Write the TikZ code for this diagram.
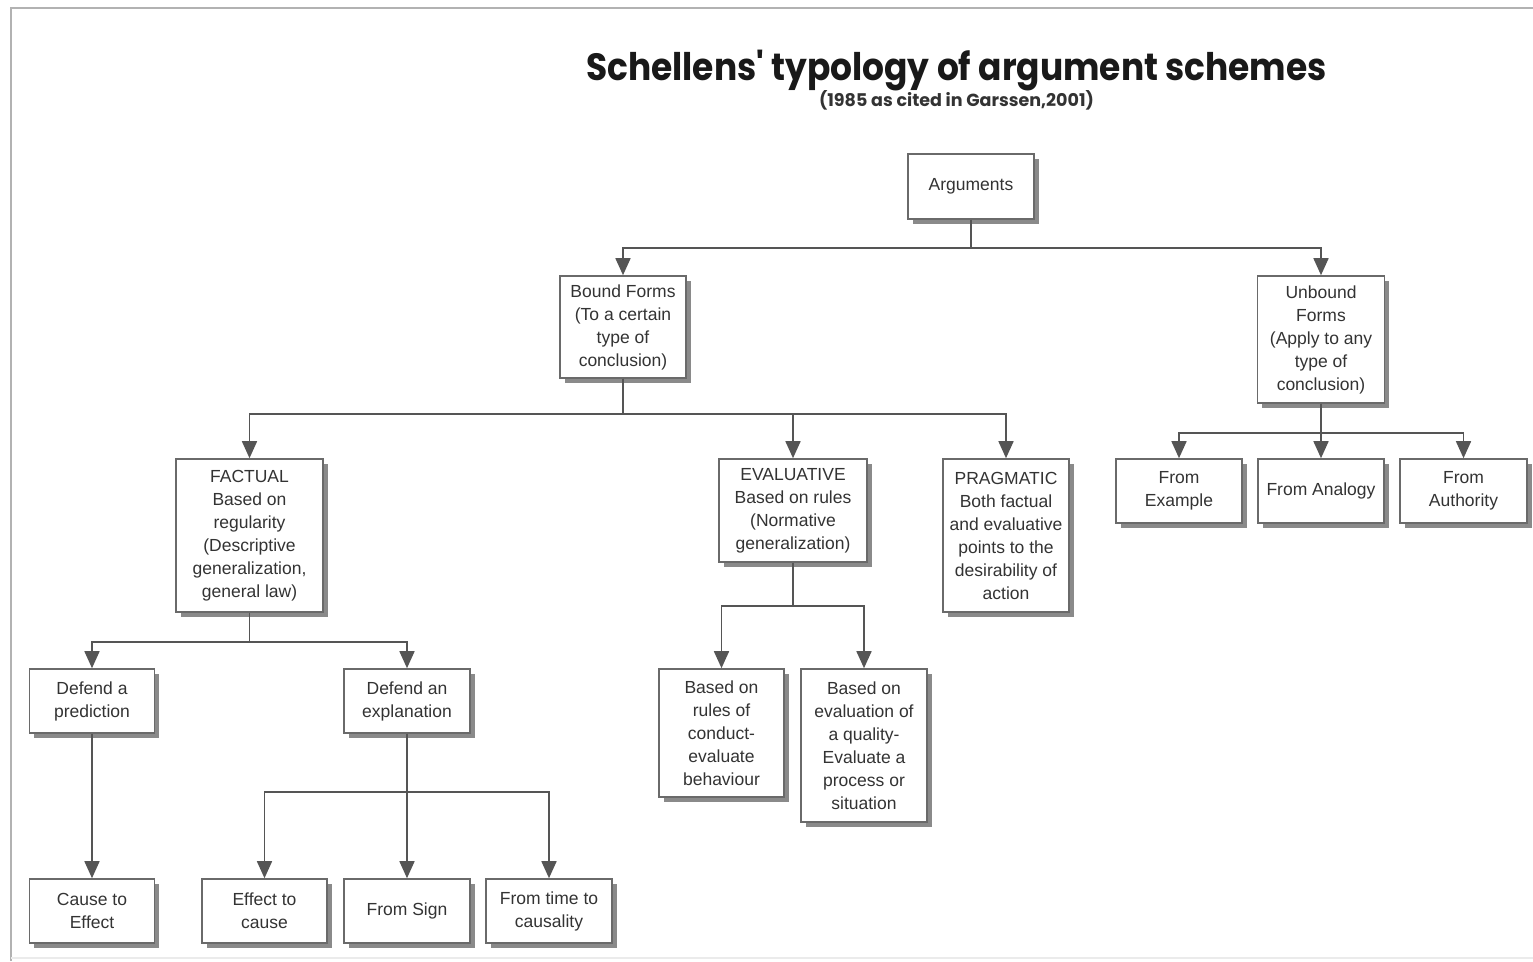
\documentclass[tikz,border=0pt]{standalone}
\usepackage{fontspec}
\setmainfont{Liberation Sans}
\newfontfamily\titlefont{Poppins}
\usetikzlibrary{arrows.meta,shadows}

\definecolor{boxline}{HTML}{6A6A6A}
\definecolor{wire}{HTML}{555555}
\definecolor{ink}{HTML}{333333}
\definecolor{shade}{HTML}{8A8A8A}

\tikzset{
  box/.style={draw=boxline, line width=1.6pt, fill=white, align=center,
    inner sep=0pt, text=ink,
    font=\fontsize{17.5}{23}\selectfont,
    drop shadow={shadow xshift=4.5pt, shadow yshift=-4.5pt, fill=shade, opacity=1}},
  link/.style={draw=wire, line width=1.6pt},
  arr/.style={link, -{Triangle[width=15pt,length=17pt]}},
}

\begin{document}
\begin{tikzpicture}[x=1pt, y=-1pt]
\useasboundingbox (0,0) rectangle (1533,961);
\fill[white] (0,0) rectangle (1533,961);

% page frame
\draw[black!30, line width=2pt] (11,961) -- (11,8) -- (1533,8);
\draw[black!8, line width=1.5pt] (11,958) -- (1533,958);

% heading
\node[font=\titlefont\bfseries\fontsize{38}{44}\selectfont, anchor=base, text=black!90] (title) at (956.5,80) {\scalebox{0.906}[1]{Schellens' typology of argument schemes}};
\node[font=\titlefont\bfseries\fontsize{17.5}{21}\selectfont, anchor=base, text=black!80] (sub) at (956.5,106) {(1985 as cited in Garssen,2001)};

% boxes
\node[box, minimum width=126pt, minimum height=65pt] (args) at (971,186.5) {Arguments};
\node[box, minimum width=126pt, minimum height=102pt] (bound) at (623,327) {Bound Forms\\(To a certain\\type of\\conclusion)};
\node[box, minimum width=127pt, minimum height=127pt] (unbound) at (1321,339.5) {Unbound\\Forms\\(Apply to any\\type of\\conclusion)};

\node[box, minimum width=147pt, minimum height=153pt] (fact) at (249.5,535.5) {FACTUAL\\Based on\\regularity\\(Descriptive\\generalization,\\general law)};
\node[box, minimum width=148pt, minimum height=103pt] (eval) at (793,510.5) {EVALUATIVE\\Based on rules\\(Normative\\generalization)};
\node[box, minimum width=126pt, minimum height=153pt] (prag) at (1006,535.5) {PRAGMATIC\\Both factual\\and evaluative\\points to the\\desirability of\\action};

\node[box, minimum width=126pt, minimum height=64pt] (fex) at (1179,491) {From\\Example};
\node[box, minimum width=126pt, minimum height=64pt] (fan) at (1321,491) {From Analogy};
\node[box, minimum width=127pt, minimum height=64pt] (fau) at (1463.5,491) {From\\Authority};

\node[box, minimum width=125pt, minimum height=64pt] (pred) at (92,701) {Defend a\\prediction};
\node[box, minimum width=126pt, minimum height=64pt] (expl) at (407,701) {Defend an\\explanation};
\node[box, minimum width=125pt, minimum height=128pt] (rules) at (721.5,733) {Based on\\rules of\\conduct-\\evaluate\\behaviour};
\node[box, minimum width=126pt, minimum height=153pt] (qual) at (864,745.5) {Based on\\evaluation of\\a quality-\\Evaluate a\\process or\\situation};

\node[box, minimum width=125pt, minimum height=64pt] (c2e) at (92,911) {Cause to\\Effect};
\node[box, minimum width=125pt, minimum height=64pt] (e2c) at (264.5,911) {Effect to\\cause};
\node[box, minimum width=126pt, minimum height=64pt] (sign) at (407,911) {From Sign};
\node[box, minimum width=126pt, minimum height=64pt] (time) at (549,911) {From time to\\causality};

% connectors
\draw[arr] (args.south) -- ++(0,28) -| (bound.north);
\draw[arr] (args.south) -- ++(0,28) -| (unbound.north);

\draw[arr] (bound.south) -- ++(0,35) -| (fact.north);
\draw[arr] (bound.south) -- ++(0,35) -| (eval.north);
\draw[arr] (bound.south) -- ++(0,35) -| (prag.north);

\draw[arr] (unbound.south) -- ++(0,29) -| (fex.north);
\draw[arr] (unbound.south) -- (fan.north);
\draw[arr] (unbound.south) -- ++(0,29) -| (fau.north);

\draw[arr] (fact.south) -- ++(0,29) -| (pred.north);
\draw[arr] (fact.south) -- ++(0,29) -| (expl.north);

\draw[arr] (eval.south) -- ++(0,43) -| (rules.north);
\draw[arr] (eval.south) -- ++(0,43) -| (qual.north);

\draw[arr] (pred.south) -- (c2e.north);

\draw[arr] (expl.south) -- ++(0,58) -| (e2c.north);
\draw[arr] (expl.south) -- (sign.north);
\draw[arr] (expl.south) -- ++(0,58) -| (time.north);
\end{tikzpicture}
\end{document}
